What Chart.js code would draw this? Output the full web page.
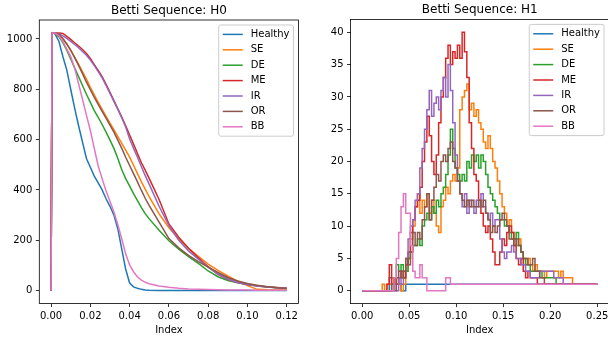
<!DOCTYPE html>
<html>
<head>
<meta charset="utf-8">
<script src="https://cdn.jsdelivr.net/npm/chart.js@4.4.0/dist/chart.umd.min.js"></script>
<style>
  html, body { margin: 0; padding: 0; background: #fff; overflow: hidden; }
  #wrap { position: relative; width: 608px; height: 341px; overflow: hidden; }
  canvas { position: absolute; top: 0; }
  #h0 { left: 0; }
  #h1 { left: 304px; }
</style>
</head>
<body>
<div id="wrap">
  <canvas id="h0" width="304" height="341"></canvas>
  <canvas id="h1" width="320" height="341"></canvas>
</div>
<script>
const LABELS = ['Healthy', 'SE', 'DE', 'ME', 'IR', 'OR', 'BB'];

// H0 betti curves
const h0Index = [0, 0.0005, 0.002, 0.004, 0.006, 0.008, 0.010, 0.012, 0.014, 0.016, 0.018, 0.020,
  0.022, 0.024, 0.026, 0.028, 0.030, 0.032, 0.034, 0.036, 0.038, 0.040,
  0.042, 0.044, 0.046, 0.048, 0.050, 0.055, 0.060, 0.065, 0.070, 0.075, 0.080,
  0.085, 0.090, 0.095, 0.100, 0.105, 0.110, 0.115, 0.120];
const h0Healthy = [0, 1024, 1020, 990, 930, 876, 800, 725, 655, 590, 525, 490,
  455, 428, 400, 365, 335, 300, 245, 165, 85, 30,
  15, 9, 5, 2, 1, 0, 0, 0, 0, 0, 0, 0, 0, 0, 0, 0, 0, 0, 0];
const h0SE = [0, 1024, 1024, 1015, 1000, 980, 955, 928, 900, 870, 840, 808,
  778, 748, 720, 692, 665, 640, 612, 585, 558, 530,
  498, 465, 432, 402, 372, 305, 250, 205, 168, 136, 105, 80, 58, 38, 20, 5, 3, 2, 2];
const h0DE = [0, 1024, 1022, 1008, 985, 955, 920, 885, 850, 815, 780, 748,
  715, 688, 660, 630, 598, 565, 525, 480, 445, 415,
  385, 358, 330, 305, 285, 240, 198, 165, 135, 108, 78, 55, 40, 31, 24, 18, 14, 11, 9];
const h0ME = [0, 1024, 1024, 1024, 1022, 1010, 998, 985, 972, 958, 942, 922,
  898, 875, 850, 820, 788, 755, 722, 690, 655, 618,
  582, 545, 508, 478, 445, 362, 265, 212, 168, 130, 95, 65, 45, 32, 24, 19, 15, 12, 9];
const h0IR = [0, 1024, 1024, 1020, 1012, 1002, 990, 978, 965, 950, 935, 916,
  894, 870, 845, 815, 784, 752, 720, 686, 650, 602,
  565, 530, 492, 456, 422, 335, 258, 200, 158, 125, 93, 65, 45, 32, 24, 18, 14, 11, 9];
const h0OR = [0, 1024, 1024, 1018, 1002, 980, 955, 926, 895, 862, 828, 798,
  768, 740, 712, 685, 658, 630, 598, 565, 530, 497,
  465, 432, 398, 366, 338, 272, 207, 170, 140, 115, 93, 72, 52, 38, 28, 21, 15, 11, 8];
const h0BB = [0, 1024, 1024, 1012, 990, 960, 930, 884, 822, 760, 697, 636,
  565, 495, 445, 396, 355, 312, 262, 205, 145, 102,
  75, 54, 42, 33, 27, 18, 13, 9, 6, 5, 4, 3, 2, 2, 2, 1, 1, 1, 1];

// H1 betti curves
const h1Index = [0, 0.0025, 0.005, 0.0075, 0.01, 0.0125, 0.015, 0.0175, 0.02, 0.0225,
  0.025, 0.0275, 0.03, 0.0325, 0.035, 0.0375, 0.04, 0.0425, 0.045, 0.0475,
  0.05, 0.0525, 0.055, 0.0575, 0.06, 0.0625, 0.065, 0.0675, 0.07, 0.0725,
  0.075, 0.0775, 0.08, 0.0825, 0.085, 0.0875, 0.09, 0.0925, 0.095, 0.0975,
  0.1, 0.1025, 0.105, 0.1075, 0.11, 0.1125, 0.115, 0.1175, 0.12, 0.1225,
  0.125, 0.1275, 0.13, 0.1325, 0.135, 0.1375, 0.14, 0.1425, 0.145, 0.1475,
  0.15, 0.1525, 0.155, 0.1575, 0.16, 0.1625, 0.165, 0.1675, 0.17, 0.1725,
  0.175, 0.1775, 0.18, 0.1825, 0.185, 0.1875, 0.19, 0.1925, 0.195, 0.1975,
  0.2, 0.2025, 0.205, 0.2075, 0.21, 0.2125, 0.215, 0.2175, 0.22, 0.2225,
  0.225, 0.2275, 0.23, 0.2325, 0.235, 0.2375, 0.24, 0.2425, 0.245, 0.2475,
  0.25];
const h1Healthy = [0, 0, 0, 0, 0, 0, 0, 0, 0, 0,
  0, 0, 2, 2, 1, 1, 1, 0, 0, 1,
  1, 1, 1, 1, 1, 1, 1, 1, 1, 1,
  1, 1, 1, 1, 1, 1, 1, 1, 1, 1,
  1, 1, 1, 1, 1, 1, 1, 1, 1, 1,
  1, 1, 1, 1, 1, 1, 1, 1, 1, 1,
  1, 1, 1, 1, 1, 1, 1, 1, 1, 1,
  1, 1, 1, 1, 1, 1, 1, 1, 1, 1,
  1, 1, 1, 1, 1, 1, 1, 1, 1, 1,
  1, 1, 1, 1, 1, 1, 1, 1, 1, 1,
  1];
const h1SE = [0, 0, 0, 0, 0, 0, 0, 0, 0, 1,
  0, 1, 1, 2, 1, 2, 1, 0, 1, 3,
  5, 8, 10, 13, 15, 12, 14, 13, 15, 12,
  14, 12, 10, 9, 13, 14, 16, 15, 17, 18,
  17, 19, 28, 30, 31, 32, 28, 29, 27, 28,
  26, 25, 23, 22, 24, 22, 20, 19, 17, 15,
  13, 12, 10, 11, 9, 8, 7, 8, 6, 5,
  4, 5, 4, 3, 4, 3, 3, 3, 2, 3,
  3, 3, 3, 3, 2, 3, 2, 2, 2, 2,
  1, 1, 1, 1, 1, 1, 1, 1, 1, 1,
  1];
const h1DE = [0, 0, 0, 0, 0, 0, 0, 0, 0, 0,
  0, 0, 0, 1, 2, 4, 3, 4, 2, 3,
  5, 6, 7, 7, 8, 7, 10, 11, 12, 11,
  13, 12, 14, 13, 15, 16, 18, 21, 25, 22,
  19, 18, 17, 18, 17, 20, 19, 21, 20, 21,
  19, 21, 20, 18, 16, 15, 14, 13, 12, 11,
  11, 10, 10, 9, 8, 8, 9, 7, 6, 5,
  4, 4, 3, 3, 3, 3, 3, 2, 2, 2,
  2, 2, 2, 1, 1, 1, 1, 1, 1, 1,
  1, 1, 1, 1, 1, 1, 1, 1, 1, 1,
  1];
const h1ME = [0, 0, 0, 0, 0, 0, 0, 0, 0, 0,
  0, 1, 4, 1, 2, 1, 2, 3, 2, 4,
  6, 9, 11, 13, 14, 16, 20, 23, 27, 24,
  20, 18, 21, 26, 30, 33, 36, 38, 35, 37,
  36, 38, 36, 40, 37, 33, 26, 22, 18, 17,
  14, 12, 10, 9, 10, 8, 6, 4, 4, 6,
  8, 7, 9, 10, 9, 7, 5, 4, 5, 3,
  2, 3, 2, 2, 2, 1, 1, 1, 1, 1,
  1, 1, 1, 1, 1, 1, 1, 1, 1, 1,
  1, 1, 1, 1, 1, 1, 1, 1, 1, 1,
  1];
const h1IR = [0, 0, 0, 0, 0, 0, 0, 0, 0, 0,
  0, 0, 0, 0, 1, 0, 2, 1, 3, 5,
  8, 10, 11, 14, 15, 19, 22, 25, 28, 31,
  27, 29, 30, 28, 31, 33, 30, 35, 31, 26,
  21, 17, 15, 13, 15, 12, 14, 13, 12, 14,
  13, 15, 13, 12, 11, 12, 10, 11, 11, 8,
  6, 5, 6, 6, 7, 6, 5, 5, 4, 4,
  3, 3, 2, 2, 2, 2, 3, 3, 3, 3,
  3, 3, 2, 2, 2, 2, 1, 1, 1, 1,
  1, 1, 1, 1, 1, 1, 1, 1, 1, 1,
  1];
const h1OR = [0, 0, 0, 0, 0, 0, 0, 0, 0, 0,
  0, 0, 0, 1, 0, 2, 3, 2, 3, 5,
  4, 6, 9, 7, 9, 8, 11, 13, 15, 11,
  14, 16, 18, 17, 20, 21, 20, 22, 23, 20,
  19, 17, 15, 14, 13, 14, 13, 14, 13, 13,
  14, 13, 14, 12, 11, 9, 10, 9, 10, 11,
  12, 11, 10, 8, 8, 7, 8, 7, 6, 5,
  5, 4, 4, 5, 3, 3, 2, 2, 1, 1,
  1, 1, 1, 1, 1, 1, 1, 1, 1, 1,
  1, 1, 1, 1, 1, 1, 1, 1, 1, 1,
  1];
const h1BB = [0, 0, 0, 0, 0, 0, 0, 0, 0, 0,
  0, 0, 0, 0, 2, 5, 9, 13, 15, 12,
  12, 7, 3, 2, 2, 4, 2, 2, 0, 0,
  0, 0, 0, 0, 0, 0, 2, 2, 1, 1,
  1, 1, 1, 1, 1, 1, 1, 1, 1, 1,
  1, 1, 1, 1, 1, 1, 1, 1, 1, 1,
  1, 1, 1, 1, 1, 1, 1, 1, 1, 1,
  1, 1, 1, 1, 1, 1, 1, 1, 1, 1,
  1, 1, 1, 1, 1, 1, 1, 1, 1, 1,
  1, 1, 1, 1, 1, 1, 1, 1, 1, 1,
  1];

// tick labels
const h0XTicks = [0, 0.02, 0.04, 0.06, 0.08, 0.10, 0.12];
const h0YTicks = [0, 200, 400, 600, 800, 1000];
const h1XTicks = [0, 0.05, 0.10, 0.15, 0.20, 0.25];
const h1YTicks = [0, 5, 10, 15, 20, 25, 30, 35, 40];

// matplotlib tab10
const COLORS = ['#1f77b4', '#ff7f0e', '#2ca02c', '#d62728', '#9467bd', '#8c564b', '#e377c2'];
const FONT = { family: 'DejaVu Sans', size: 10 };

// spines, title and legend the way matplotlib draws them
const mplDecor = {
    id: 'mplDecor',
    afterDraw(chart, args, opts) {
        const ctx = chart.ctx;
        const a = chart.chartArea;
        ctx.save();
        ctx.strokeStyle = '#000';
        ctx.lineWidth = 0.8;
        ctx.strokeRect(a.left, a.top, a.right - a.left, a.bottom - a.top);

        ctx.fillStyle = '#000';
        ctx.font = '12px "DejaVu Sans"';
        ctx.textAlign = 'center';
        ctx.textBaseline = 'alphabetic';
        ctx.fillText(opts.title, (a.left + a.right) / 2, a.top - 6);

        // legend, upper right
        const sets = chart.data.datasets;
        ctx.font = '10px "DejaVu Sans"';
        let textW = 0;
        sets.forEach(d => { textW = Math.max(textW, ctx.measureText(d.label).width); });
        const rowH = 15.4;
        const w = 4 + 20 + 8 + textW + 4;
        const h = 2 * 9.4 + (sets.length - 1) * rowH;
        const x0 = a.right - 5 - w;
        const y0 = a.top + 5;
        ctx.beginPath();
        ctx.roundRect(x0, y0, w, h, 2);
        ctx.fillStyle = 'rgba(255,255,255,0.8)';
        ctx.fill();
        ctx.strokeStyle = '#cccccc';
        ctx.lineWidth = 1;
        ctx.stroke();
        ctx.textAlign = 'left';
        ctx.textBaseline = 'middle';
        sets.forEach((d, i) => {
            const y = y0 + 9.4 + i * rowH;
            ctx.beginPath();
            ctx.moveTo(x0 + 4, y);
            ctx.lineTo(x0 + 24, y);
            ctx.strokeStyle = d.borderColor;
            ctx.lineWidth = 1.5;
            ctx.stroke();
            ctx.fillStyle = '#000';
            ctx.fillText(d.label, x0 + 32, y);
        });
        ctx.restore();
    }
};

function axisGrid() {
    return { drawOnChartArea: false, drawTicks: true, tickLength: 3.5, color: '#000', lineWidth: 0.8 };
}

function makeChart(canvasId, cfg) {
    const datasets = cfg.series.map((vals, i) => ({
        label: LABELS[i],
        data: cfg.index.map((x, k) => ({ x: x, y: vals[k] })),
        borderColor: COLORS[i],
        backgroundColor: COLORS[i],
        borderWidth: 1.5,
        pointRadius: 0,
        fill: false,
        stepped: cfg.stepped,
        // last series on top, like matplotlib
        order: cfg.series.length - 1 - i
    }));

    return new Chart(document.getElementById(canvasId), {
        type: 'line',
        data: { datasets: datasets },
        options: {
            responsive: false,
            animation: false,
            events: [],
            layout: { padding: { top: cfg.top, right: cfg.right, left: 0, bottom: 0 } },
            plugins: {
                legend: { display: false },
                tooltip: { enabled: false },
                mplDecor: { title: cfg.title }
            },
            scales: {
                x: {
                    type: 'linear',
                    min: cfg.xMin,
                    max: cfg.xMax,
                    grid: axisGrid(),
                    border: { display: false },
                    ticks: { padding: 3.5, color: '#000', font: FONT, autoSkip: false, maxRotation: 0,
                        callback: v => v.toFixed(2) },
                    title: { display: true, text: 'Index', color: '#000', font: FONT, padding: { top: 0, bottom: 5 } },
                    afterBuildTicks: s => { s.ticks = cfg.xTicks.map(v => ({ value: v })); },
                    afterFit: s => { s.height = cfg.xH; s.paddingLeft = 0; s.paddingRight = 0; }
                },
                y: {
                    type: 'linear',
                    min: cfg.yMin,
                    max: cfg.yMax,
                    grid: axisGrid(),
                    border: { display: false },
                    ticks: { padding: 3.5, color: '#000', font: FONT, autoSkip: false,
                        callback: v => String(v) },
                    afterBuildTicks: s => { s.ticks = cfg.yTicks.map(v => ({ value: v })); },
                    afterFit: s => { s.width = cfg.yW; s.paddingTop = 0; s.paddingBottom = 0; }
                }
            }
        },
        plugins: [mplDecor]
    });
}

makeChart('h0', {
    title: 'Betti Sequence: H0',
    index: h0Index,
    series: [h0Healthy, h0SE, h0DE, h0ME, h0IR, h0OR, h0BB],
    stepped: false,
    xMin: -0.006, xMax: 0.126, yMin: -51.2, yMax: 1075.2,
    xTicks: h0XTicks, yTicks: h0YTicks,
    top: 20, right: 5.5, yW: 39.3, xH: 37.5
});

makeChart('h1', {
    title: 'Betti Sequence: H1',
    index: h1Index,
    series: [h1Healthy, h1SE, h1DE, h1ME, h1IR, h1OR, h1BB],
    stepped: 'middle',
    xMin: -0.0125, xMax: 0.2625, yMin: -2, yMax: 42,
    xTicks: h1XTicks, yTicks: h1YTicks,
    top: 19.4, right: 15, yW: 46.5, xH: 37.4
});
</script>
</body>
</html>
